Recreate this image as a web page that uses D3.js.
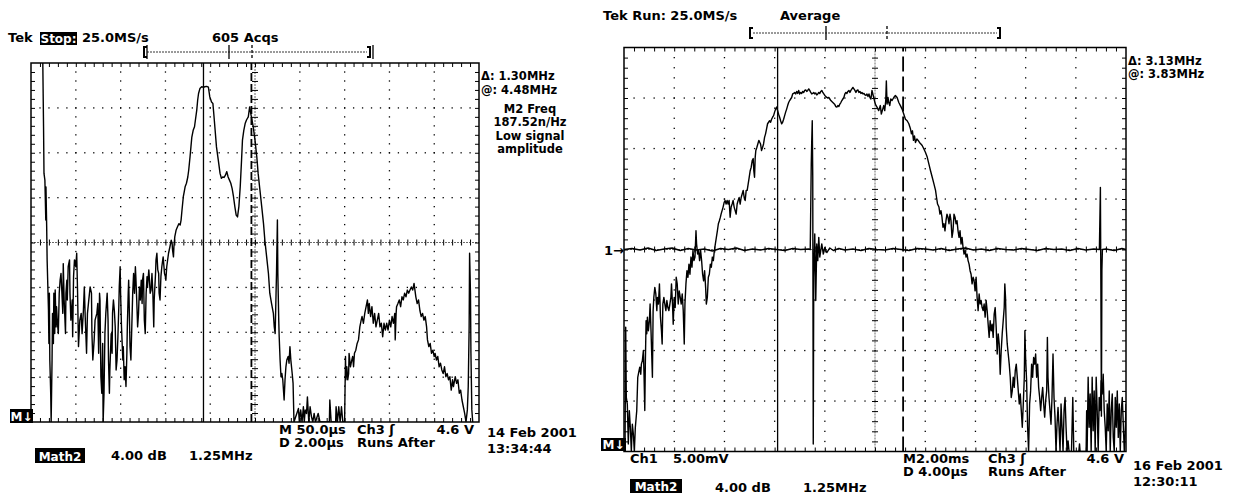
<!DOCTYPE html>
<html>
<head>
<meta charset="UTF-8">
<title>scope captures</title>
<script src="https://cdn.jsdelivr.net/npm/d3@7"></script>
<style>
  body { margin: 0; background: #fff; }
  svg { display: block; }
  text { font-family: "DejaVu Sans", sans-serif; font-weight: bold; font-size: 13px; fill: #000; }
  text.small { font-size: 11.5px; }
  .inv text { fill: #fff; }
  .trace { fill: none; stroke: #000; stroke-width: 1.4px; stroke-linejoin: round; }
  .tick line { stroke: #000; }
</style>
</head>
<body>
<svg width="1233" height="497"></svg>
<script>
// x = record point (500 points over 10 div), y = level in divisions (0 bottom, 8 top)

// scope A (14 Feb 2001) math trace
var mathA = [
  [13, 8.3], [14, 6.58], [14.5, 5.54], [15.5, 5.39], [16.5, 4.50], [16.7, 5.24], [17.5, 4.35], [18, 3.61],
  [19.5, 2.49], [20, 1.75], [20.5, 2.87], [21, 1.38], [22, 0.64], [22.5, 0], [23.5, 1.38], [24, 2.42],
  [25, 1.75], [25.5, 2.87], [26.5, 1.97], [27, 2.94], [28, 2.12], [28.5, 2.57], [29.5, 2.20], [30.5, 1.97],
  [31.5, 2.87], [32.5, 3.16], [33.5, 3.31], [34.5, 2.87], [35.5, 2.42], [36, 3.53], [37, 2.72], [38.5, 1.97],
  [39, 2.87], [40, 3.16], [40.5, 2.72], [41.5, 3.46], [43, 3.61], [43.5, 2.87], [44.5, 2.27], [46, 2.72],
  [46.5, 1.90], [47.5, 3.24], [48.5, 3.61], [50, 3.46], [51, 3.76], [52, 2.87], [53, 1.68], [54.5, 2.27],
  [56, 2.42], [57, 1.97], [58.5, 2.49], [59.5, 3.01], [60.5, 2.35], [62, 1.53], [63, 2.42], [64.5, 2.72],
  [66, 3.01], [67.5, 2.87], [68, 1.97], [69, 1.38], [70.5, 1.83], [71.5, 2.27], [73.5, 2.42], [74.5, 2.64],
  [75.5, 1.53], [76.5, 2.87], [77, 2.72], [78, 1.01], [79, 0.64], [80, 1.75], [80.5, 0], [81.5, 0.64],
  [82.5, 1.97], [83.5, 2.42], [84.5, 2.72], [85, 2.87], [86, 2.27], [86.5, 1.38], [87.5, 0.64], [88, 1.16],
  [89.5, 1.97], [90.5, 1.53], [91, 2.42], [92, 2.72], [93, 2.49], [94, 2.12], [95, 1.16], [96, 1.38],
  [97, 1.90], [98, 2.57], [98.5, 3.01], [99.5, 3.46], [100, 2.87], [101, 2.12], [102.5, 1.38], [103, 1.68],
  [104, 0.94], [105, 1.23], [106, 0.79], [107, 1.53], [107.5, 2.12], [108.5, 2.87], [109, 3.16], [109.5, 2.72],
  [110.5, 1.68], [111.5, 1.38], [112.5, 2.12], [113.5, 2.87], [114.5, 3.31], [115.5, 2.87], [116.5, 3.46], [117, 3.24],
  [118, 2.72], [119, 2.12], [120, 2.42], [121, 3.01], [122, 2.72], [123, 3.16], [124, 2.64], [124.5, 3.16],
  [125.5, 3.31], [126.5, 2.27], [127.5, 1.97], [128.5, 2.87], [129.5, 3.24], [130, 3.01], [131.5, 3.39], [132, 3.24],
  [133, 2.87], [134, 2.94], [135, 3.31], [136, 2.87], [137, 2.12], [137.5, 2.72], [139, 3.31], [139.5, 3.61],
  [140.5, 3.76], [141.5, 3.39], [142.5, 3.31], [143, 2.87], [144, 2.72], [145, 3.24], [146, 3.46], [147, 3.61],
  [147.5, 3.68], [149, 3.31], [150, 3.24], [150.5, 3.16], [151.5, 3.46], [152.5, 3.61], [153.5, 3.76], [155, 3.90],
  [156.5, 4.05], [157.5, 3.98], [158, 3.83], [159, 3.68], [159.5, 3.90], [160.5, 4.13], [162, 4.28], [163.5, 4.35],
  [165, 4.42], [166.5, 4.39], [167.5, 4.50], [168.5, 4.72], [170, 5.02], [171, 5.13], [172, 5.24], [173.5, 5.32],
  [175, 5.46], [176, 5.61], [177.5, 5.91], [178.5, 6.13], [179.5, 6.35], [181, 6.50], [182.5, 6.58], [183.5, 6.73],
  [185, 6.95], [186, 7.17], [187, 7.32], [188.5, 7.43], [190.5, 7.47], [192.5, 7.46], [194, 7.47], [196, 7.48],
  [198, 7.46], [199.5, 7.25], [201.5, 7.13], [203, 7.10], [204, 6.87], [205.5, 6.50], [207, 6.13], [209, 5.84],
  [211, 5.54], [212.5, 5.43], [214, 5.46], [215.5, 5.45], [217, 5.50], [218.5, 5.58], [220, 5.46], [221.5, 5.39],
  [223, 5.32], [224.5, 5.20], [226, 5.02], [227.5, 4.80], [229, 4.61], [230.5, 4.57], [232, 4.80], [233.5, 5.24],
  [235, 5.84], [236, 6.28], [237.5, 6.50], [239, 6.65], [240.5, 6.73], [242.5, 6.80], [244, 7.02], [245.5, 6.85],
  [248, 6.58], [250, 6.28], [252, 5.91], [253.5, 5.54], [255.5, 5.17], [257.5, 4.80], [259.5, 4.42], [261, 4.05],
  [263, 3.68], [265, 3.31], [266.5, 2.87], [268.5, 2.64], [270.5, 2.42], [271.5, 2.12], [272.5, 1.97], [273.5, 2.87],
  [274, 3.31], [275, 4.50], [275.5, 3.31], [276.5, 2.27], [277, 1.90], [278, 1.38], [279, 1.01], [280, 1.08],
  [281, 0.94], [282.5, 0.49], [283.5, 0.94], [284.5, 1.23], [285.5, 1.38], [287, 1.46], [288, 1.31], [289, 1.68],
  [290, 1.38], [291.5, 1.08], [292.5, 0.86], [293.5, 0], [298.5, 0.30], [299.5, 0], [301, 0.27], [302.5, 0],
  [304, 0.34], [305, 0], [306, 0.27], [307.5, 0.19], [308.5, 0.56], [310, 0], [311.5, 0.34], [313, 0.12],
  [314.5, 0], [316, 0.19], [317.5, 0], [320.5, 0.19], [322.5, 0], [333, 0], [333.5, 0.49], [335, 0],
  [340, 0], [340.5, 0.34], [342, 0], [343.5, 0.34], [345, 0], [346.5, 0.34], [348, 0], [350, 0],
  [351, 1.46], [351.5, 0.94], [352.5, 1.23], [353.5, 0.94], [354.5, 1.08], [355, 1.53], [356.5, 1.23], [358, 1.38],
  [359, 1.46], [360, 1.23], [361, 1.53], [362.5, 1.60], [364, 1.75], [365.5, 1.83], [367, 2.12], [368.5, 2.27],
  [369.5, 2.35], [371, 2.20], [372.5, 2.42], [374, 2.57], [375.5, 2.72], [376.5, 2.42], [377.5, 2.64], [379, 2.35],
  [380.5, 2.57], [382, 2.20], [383.5, 2.42], [385, 2.12], [386.5, 2.27], [388, 2.42], [389.5, 2.12], [391, 2.20],
  [392.5, 1.90], [394, 2.20], [395.5, 2.05], [397, 2.20], [398.5, 2.05], [400, 2.27], [401.5, 2.12], [403, 2.35],
  [404.5, 2.20], [406, 2.42], [406.5, 1.83], [407.5, 2.42], [408, 2.57], [409.5, 2.64], [411, 2.72], [412.5, 2.57],
  [414, 2.79], [415.5, 2.72], [417, 2.87], [418.5, 2.79], [420, 2.94], [421.5, 2.87], [423, 2.94], [424.5, 3.01],
  [426, 2.94], [427.5, 3.09], [428.5, 2.94], [429.5, 2.79], [431, 2.64], [432.5, 2.72], [434, 2.49], [435.5, 2.35],
  [437, 2.42], [438.5, 2.27], [440, 2.35], [441.5, 2.12], [442.5, 1.83], [444, 1.68], [445.5, 1.75], [447, 1.53],
  [448.5, 1.60], [450, 1.46], [451, 1.53], [452.5, 1.38], [454, 1.46], [455.5, 1.23], [457, 1.31], [458.5, 1.16],
  [460, 1.08], [461.5, 1.23], [463, 1.01], [464.5, 1.08], [466, 0.94], [467.5, 1.01], [469, 0.71], [470.5, 0.94],
  [471.5, 0.79], [473.5, 1.01], [475, 0.86], [476.5, 0.94], [478, 0.64], [479.5, 0.71], [481, 0.49], [482.5, 0.34],
  [484, 0.19], [485.5, 0], [487, 0.27], [488, 0.79], [489, 2.12], [489.5, 3.76], [490.5, 2.87], [491, 1.53],
  [492, 0.27], [493, 0]
];

// scope B (16 Feb 2001) math trace
var mathB = [
  [1, 0], [1.7, 2.46], [2.3, 1.07], [3.3, 0.94], [4.3, 0.15], [5.3, 0.81], [6.3, 0.48], [7.3, 0],
  [8.3, 0.54], [9.3, 0.35], [10.3, 0], [11.3, 0.48], [12.7, 0.81], [13.7, 1.47], [14.7, 1.57], [15.7, 1.67],
  [16.7, 1.53], [17.3, 1.73], [18.3, 1.80], [19.3, 2.00], [20, 1.47], [20.7, 0.81], [21.3, 1.80], [22, 2.59],
  [22.7, 2.33], [23.3, 2.66], [24.3, 2.39], [25.3, 2.59], [26, 2.92], [27, 2.33], [27.7, 1.86], [28.3, 1.47],
  [29, 2.79], [29.7, 3.05], [30.7, 3.25], [31.7, 3.12], [32.7, 2.79], [33.3, 3.05], [34.3, 2.92], [35.3, 3.32],
  [36.3, 2.66], [37.3, 2.39], [38, 2.13], [38.7, 2.92], [39.7, 3.05], [40.7, 2.92], [41.7, 2.79], [42.7, 2.99],
  [43.7, 2.85], [44.7, 2.79], [45.7, 2.92], [46.7, 3.05], [47.3, 3.32], [48.3, 2.92], [49, 2.52], [50, 3.05],
  [51, 2.85], [52, 3.45], [53, 3.32], [54, 2.92], [55, 3.18], [56, 3.05], [57, 2.92], [58, 3.12],
  [59, 2.79], [60, 2.13], [60.7, 2.92], [61.7, 3.32], [62.7, 3.58], [63.7, 3.45], [64.7, 3.71], [65.7, 3.51],
  [66.7, 3.85], [67.7, 3.65], [68.7, 3.98], [69.7, 3.78], [70.7, 3.85], [71.7, 4.37], [72.3, 4.11], [73.3, 3.91],
  [74.3, 3.98], [75.3, 3.78], [76.3, 3.98], [77.3, 3.78], [78.3, 3.51], [79.3, 3.38], [80.3, 3.58], [81.3, 3.25],
  [82, 2.92], [83, 3.05], [84, 3.45], [85, 3.51], [86, 3.71], [87, 3.65], [88, 3.85], [89, 3.78],
  [90, 3.98], [91, 4.11], [92, 4.24], [93, 4.37], [94, 4.51], [95, 4.57], [96, 4.64], [96.7, 4.70],
  [97.7, 4.77], [98.7, 4.84], [99.7, 4.93], [100.7, 4.97], [101.7, 4.90], [102.7, 4.97], [103.7, 4.90], [104.7, 4.97],
  [105.7, 4.64], [106.7, 4.84], [107.7, 4.90], [108.7, 4.97], [109.7, 4.84], [110.7, 4.77], [111.7, 4.70], [112.7, 4.90],
  [113.7, 4.97], [114.7, 5.03], [115.7, 4.90], [116.7, 5.03], [117.7, 5.10], [118.7, 5.17], [119.7, 5.03], [120.7, 4.97],
  [121.7, 5.17], [122.7, 5.17], [123.7, 5.30], [124.7, 5.43], [125.7, 5.56], [126.7, 5.63], [127.7, 5.76], [128.7, 5.80],
  [129.3, 5.56], [130, 5.43], [130.7, 5.83], [131.3, 5.96], [132.3, 6.02], [133.3, 6.09], [134.3, 6.16], [135.3, 6.12],
  [136, 6.09], [137, 5.96], [138, 6.02], [139, 6.09], [140, 6.22], [141, 6.29], [142, 6.39], [143, 6.49],
  [144, 6.52], [145, 6.55], [146, 6.52], [147, 6.58], [148, 6.62], [149, 6.65], [150, 6.72], [151, 6.78],
  [152, 6.82], [153, 6.75], [154, 6.68], [155, 6.62], [156, 6.55], [157, 6.49], [158, 6.52], [159, 6.58],
  [160, 6.65], [161, 6.72], [162, 6.78], [163, 6.85], [164, 6.91], [165, 6.95], [166, 6.98], [167, 7.01],
  [168, 7.08], [169, 7.09], [170, 7.11], [171, 7.08], [172, 7.13], [173, 7.09], [174, 7.15], [175, 7.08],
  [176, 7.11], [177, 7.09], [178, 7.13], [179, 7.11], [180, 7.15], [181, 7.16], [182, 7.13], [183, 7.15],
  [184, 7.18], [185, 7.15], [186, 7.11], [187, 7.08], [188, 7.09], [189, 7.11], [190, 7.08], [191, 7.10],
  [192, 7.06], [193, 7.08], [194, 7.11], [195, 7.09], [196, 7.13], [197, 7.15], [198, 7.11], [199, 7.08],
  [200, 7.05], [201, 7.03], [202, 7.01], [203, 7.00], [204, 7.01], [205, 6.98], [206, 6.95], [207, 6.93],
  [208, 6.91], [209, 6.89], [210, 6.87], [211, 6.83], [212, 6.82], [213, 6.85], [214, 6.83], [215, 6.88],
  [216, 6.91], [217, 6.95], [218, 6.98], [219, 7.01], [220, 7.08], [221, 7.11], [222, 7.09], [223, 7.13],
  [224, 7.15], [225, 7.11], [226, 7.15], [227, 7.18], [228, 7.21], [229, 7.18], [230, 7.15], [231, 7.11],
  [232, 7.15], [233, 7.16], [234, 7.11], [235, 7.13], [236, 7.09], [237, 7.11], [238, 7.08], [239, 7.09],
  [240, 7.06], [241, 7.05], [242, 7.08], [243, 7.03], [244, 7.08], [245, 7.01], [246, 6.98],
  [247, 7.15], [248.7, 7.01], [250.3, 6.88], [252, 6.82], [253.7, 6.75], [255.3, 6.85], [256.3, 6.68], [257.7, 6.78],
  [258.7, 6.85], [259.7, 6.75], [260.7, 6.95], [261.3, 7.34], [262, 6.88], [263, 7.01], [263.7, 6.91], [264.7, 6.85],
  [265.7, 6.98], [267, 6.95], [268.7, 7.01], [270.3, 7.05], [272, 7.01], [273.7, 6.91], [275.3, 6.85], [277, 6.78],
  [278.7, 6.68], [280.3, 6.58], [282, 6.55], [283.7, 6.49], [285.3, 6.39], [286.3, 6.29], [287.3, 6.35], [288.3, 6.16],
  [289.3, 6.25], [290.3, 6.12], [291.7, 6.19], [293, 6.16], [294.3, 6.12], [295.7, 6.09], [297, 6.06], [298.7, 5.99],
  [300.3, 5.92], [302, 5.83], [303.7, 5.69], [305.3, 5.56], [307, 5.43], [308.7, 5.30], [310.3, 5.17], [311.3, 5.03],
  [312.3, 4.90], [313.7, 4.84], [314.7, 4.70], [315.7, 4.77], [316.7, 4.64], [317.7, 4.44], [318.7, 4.51], [319.7, 4.37],
  [320.7, 4.57], [321.7, 4.70], [322.7, 4.64], [323.7, 4.51], [324.7, 4.70], [325.7, 4.57], [326.7, 4.24], [327.7, 4.37],
  [328.7, 4.70], [329.7, 4.64], [330.7, 4.51], [331.7, 4.57], [332.7, 4.37], [333.7, 4.24], [334.7, 4.37], [335.7, 4.11],
  [336.7, 4.24], [337.7, 4.04], [338.7, 3.91], [339.7, 3.98], [340.7, 3.85], [341.7, 3.91], [342.7, 3.78], [343.7, 3.71],
  [344.7, 3.58], [345.7, 3.51], [346.7, 3.32], [347.7, 3.45], [348.7, 3.38], [349.7, 3.18], [350.7, 3.45], [351.7, 3.05],
  [352.7, 2.79], [353.7, 3.12], [354.7, 2.92], [355.7, 2.99], [356.7, 2.85], [357.7, 2.79], [358.7, 2.92], [359.7, 2.66],
  [360.7, 2.99], [361.7, 2.79], [362.7, 2.52], [363.7, 2.26], [364.7, 2.59], [365.7, 2.39], [366.7, 2.52], [367.7, 2.26],
  [368.7, 2.72], [369.7, 2.85], [370.7, 2.46], [371.7, 1.93], [372.7, 2.33], [373.7, 2.13], [374.7, 1.53], [375.7, 2.00],
  [376.7, 2.33], [377.7, 2.59], [378.7, 2.85], [379.3, 3.32], [380, 3.05], [380.7, 2.46], [381.7, 2.13], [382.7, 1.93],
  [383.7, 1.73], [384.7, 1.47], [385.7, 1.07], [386.7, 1.20], [387.7, 1.47], [388.7, 1.27], [389.7, 1.60], [390.7, 1.73],
  [391.7, 1.47], [392.7, 1.20], [393.7, 0.94], [394.7, 1.14], [395.7, 0.81], [396.7, 0.48], [397.7, 0.94], [398.7, 1.47],
  [399.3, 2.39], [400, 1.86], [401, 1.40], [402, 0.48], [403, 0], [404, 0.94], [405, 1.20], [406, 1.73],
  [407, 1.47], [408, 1.86], [409, 1.73], [410, 1.93], [411, 1.47], [412, 1.73], [413, 1.27], [414, 1.07],
  [415, 0.81], [416, 1.07], [417, 1.27], [418, 0.94], [419, 0.68], [420, 1.01], [421, 1.20], [421.7, 2.26],
  [422.3, 1.47], [423.3, 1.07], [424.3, 0.81], [425.3, 0.54], [426.3, 1.07], [427.3, 1.93], [428.3, 1.07], [429.3, 0.68],
  [430.3, 0], [431.3, 0.54], [432.3, 0.87], [433.3, 0.48], [434.3, 0], [435.3, 0.94], [436.3, 0.48], [437.3, 0],
  [438.3, 0.81], [439.3, 1.07], [440.3, 0.48], [441.3, 0], [442.3, 0.21], [443.3, 0], [445.7, 0], [447, 1.07],
  [448, 0], [453, 0], [453.7, 0.15], [454.3, 0], [460.3, 0], [460.8, 0.81], [461.3, 0], [462.3, 1.47],
  [463.3, 0.48], [464.3, 1.14], [465.3, 0], [466.3, 1.47], [467.3, 0.41], [468.3, 1.20], [469.3, 0], [470.3, 1.47],
  [471.3, 0.81], [472.3, 0], [473.3, 1.07], [474.3, 0.81], [475.3, 1.40], [476.3, 1.14], [477.3, 1.53], [478.3, 0.81],
  [479.3, 0.48], [480.3, 0], [481.3, 0.94], [482.3, 0.41], [483.3, 1.20], [484.3, 0], [485.3, 0.81], [486.3, 1.14],
  [487.3, 0.28], [488.3, 0], [489.3, 1.07], [490.3, 0.48], [491.3, 1.20], [492.3, 0.28], [493.3, 0.94], [494.3, 0],
  [495.3, 0.81], [496.3, 1.07], [497.3, 0.54], [498.3, 0], [499.3, 0.41], [500, 0.94]
];

// scope B channel 1 (flat at centre, two spikes)
var ch1B = [
  [0, 4.00], [8, 4.02], [16, 3.99], [24, 4.03], [32, 3.98], [40, 4.01], [48, 4.03], [56, 3.98],
  [64, 4.02], [72, 3.99], [80, 4.01], [88, 3.97], [96, 4.02], [104, 4.00], [112, 4.03], [120, 3.98],
  [128, 4.01], [136, 3.99], [144, 4.02], [152, 4.00], [160, 3.98], [168, 4.02], [176, 4.00], [184, 4.01],
  [185.5, 4.00], [186.5, 5.69], [187, 6.16], [187.5, 6.55], [188, 5.43], [188.5, 0.15], [189, 3.45], [190, 4.31],
  [191, 2.99], [192, 4.11], [193, 3.78], [194, 4.24], [195, 3.85], [197, 4.11], [198.5, 3.91], [200, 4.04],
  [202, 3.94], [205, 4.03], [208.5, 3.98], [214, 4.02], [220, 3.99], [228, 4.01], [236, 3.98], [244, 4.02],
  [252, 4.00], [260, 3.99], [268, 4.02], [276, 4.00], [284, 3.98], [292, 4.02], [300, 4.01], [308, 3.99],
  [316, 4.02], [324, 3.98], [332, 4.01], [340, 4.03], [348, 3.99], [356, 4.01], [364, 3.98], [372, 4.02],
  [380, 4.00], [388, 3.99], [396, 4.02], [404, 4.00], [412, 3.98], [420, 4.02], [428, 4.00], [436, 4.01],
  [444, 3.98], [452, 4.02], [460, 3.99], [468, 4.01], [473.5, 4.00], [474.5, 5.23], [475, 3.20], [475.5, 0.70],
  [476, 3.60], [476.5, 4.00], [480, 4.01], [488, 3.98], [496, 4.02], [500, 4.00]
];

var cursorsA = [192.5, 246];   // solid, dashed
var cursorsB = [153, 278];

var svg = d3.select("svg");

function drawScope(box, traces, cursors, dashPattern) {
    var g = svg.append("g");
    var x = d3.scaleLinear().domain([0, 500]).range([box.left, box.right]);
    var y = d3.scaleLinear().domain([0, 8]).range([box.bottom, box.top]);
    var minorX = d3.range(10, 500, 10);
    var minorY = d3.range(0.2, 8, 0.2);

    // dotted graticule
    var vLines = [50, 100, 150, 200, 300, 350, 400, 450];
    var hLines = [1, 2, 3, 5, 6, 7];
    g.append("g").selectAll("rect")
        .data(d3.cross(vLines, minorY))
        .join("rect")
        .attr("x", d => x(d[0]) - 0.6).attr("y", d => y(d[1]) - 0.6)
        .attr("width", 1.3).attr("height", 1.3).attr("fill", "#000");
    g.append("g").selectAll("rect")
        .data(d3.cross(minorX, hLines))
        .join("rect")
        .attr("x", d => x(d[0]) - 0.6).attr("y", d => y(d[1]) - 0.6)
        .attr("width", 1.3).attr("height", 1.3).attr("fill", "#000");

    // centre lines
    g.append("line").attr("x1", x(0)).attr("x2", x(500)).attr("y1", y(4)).attr("y2", y(4))
        .attr("stroke", "#444").attr("stroke-width", 0.8).attr("stroke-dasharray", "2,1");
    g.append("line").attr("x1", x(250)).attr("x2", x(250)).attr("y1", y(0)).attr("y2", y(8))
        .attr("stroke", "#444").attr("stroke-width", 0.8).attr("stroke-dasharray", "2,1");

    function ticks(axis, tx, ty) {
        var a = g.append("g").attr("transform", "translate(" + tx + "," + ty + ")").call(axis);
        a.select(".domain").remove();
    }
    ticks(d3.axisBottom(x).tickValues(minorX).tickSize(4).tickFormat(""), 0, y(8));
    ticks(d3.axisTop(x).tickValues(minorX).tickSize(4).tickFormat(""), 0, y(0));
    ticks(d3.axisRight(y).tickValues(minorY).tickSize(4).tickFormat(""), x(0), 0);
    ticks(d3.axisLeft(y).tickValues(minorY).tickSize(4).tickFormat(""), x(500), 0);
    ticks(d3.axisTop(x).tickValues(minorX).tickSize(3).tickFormat(""), 0, y(4));
    ticks(d3.axisBottom(x).tickValues(minorX).tickSize(3).tickFormat(""), 0, y(4));
    ticks(d3.axisLeft(y).tickValues(minorY).tickSize(3).tickFormat(""), x(250), 0);
    ticks(d3.axisRight(y).tickValues(minorY).tickSize(3).tickFormat(""), x(250), 0);

    // cursors
    g.append("line").attr("x1", x(cursors[0])).attr("x2", x(cursors[0]))
        .attr("y1", y(0)).attr("y2", y(8)).attr("stroke", "#000").attr("stroke-width", 1.3);
    g.append("line").attr("x1", x(cursors[1])).attr("x2", x(cursors[1]))
        .attr("y1", y(0)).attr("y2", y(8)).attr("stroke", "#000").attr("stroke-width", 1.8)
        .attr("stroke-dasharray", dashPattern);

    // traces
    var clipId = "clip" + box.left;
    svg.append("clipPath").attr("id", clipId).append("rect")
        .attr("x", x(0)).attr("y", y(8)).attr("width", x(500) - x(0)).attr("height", y(0) - y(8));
    var line = d3.line().x(d => x(d[0])).y(d => y(d[1]));
    traces.forEach(function (t) {
        g.append("path").datum(t).attr("class", "trace").attr("clip-path", "url(#" + clipId + ")").attr("d", line);
    });

    // border
    g.append("rect").attr("x", x(0)).attr("y", y(8)).attr("width", x(500) - x(0)).attr("height", y(0) - y(8))
        .attr("fill", "none").attr("stroke", "#000").attr("stroke-width", 1.5);
    return g;
}

function label(t, px, py, anchor, cls) {
    svg.append("text").attr("x", px).attr("y", py).attr("text-anchor", anchor || "start")
        .attr("class", cls || null).text(t);
}
function invLabel(t, px, py, w, h, size) {
    var g = svg.append("g").attr("class", "inv");
    g.append("rect").attr("x", px).attr("y", py).attr("width", w).attr("height", h).attr("fill", "#000");
    g.append("text").attr("x", px + w / 2).attr("y", py + h - 2.5).attr("text-anchor", "middle")
        .style("font-size", size + "px").text(t);
}
function bracket(x0, x1, yy, marks) {
    var g = svg.append("g").attr("stroke", "#000").attr("fill", "none");
    g.append("path").attr("d", "M" + (x0 + 3) + "," + (yy - 5) + "H" + x0 + "V" + (yy + 5) + "H" + (x0 + 3)).attr("stroke-width", 2);
    g.append("path").attr("d", "M" + (x1 - 3) + "," + (yy - 5) + "H" + x1 + "V" + (yy + 5) + "H" + (x1 - 3)).attr("stroke-width", 2);
    g.append("line").attr("x1", x0 + 3).attr("x2", x1 - 3).attr("y1", yy).attr("y2", yy)
        .attr("stroke-width", 0.8).attr("stroke-dasharray", "2,1");
    marks.forEach(function (m) {
        g.append("line").attr("x1", m[0]).attr("x2", m[0]).attr("y1", yy - 7).attr("y2", yy + 7)
            .attr("stroke-width", 1.3).attr("stroke-dasharray", m[1] ? "3,2" : null);
    });
}

// ---- scope A ----
drawScope({left: 31, right: 479, top: 63, bottom: 422}, [mathA], cursorsA, "8,3");
label("Tek", 8, 42);
invLabel("Stop:", 40, 32, 37, 13, 12);
label("25.0MS/s", 82, 42);
label("605 Acqs", 212, 42);
bracket(144, 370, 52, [[147, false], [229, false], [252, true], [373, false]]);
label("\u0394: 1.30MHz", 481, 80, "start", "small");
label("@: 4.48MHz", 481, 93.5, "start", "small");
label("M2 Freq", 530, 112.5, "middle", "small");
label("187.52n/Hz", 530, 126, "middle", "small");
label("Low signal", 530, 139.5, "middle", "small");
label("amplitude", 530, 153, "middle", "small");
invLabel("M\u2193", 10, 409, 23, 14, 12);
label("M 50.0\u00b5s", 279, 434);
label("Ch3 \u0283", 357, 434);
label("4.6 V", 474, 434, "end");
label("D 2.00\u00b5s", 279, 447);
label("Runs After", 357, 447);
label("14 Feb 2001", 487, 437);
label("13:34:44", 487, 453);
invLabel("Math2", 35, 448, 50, 15, 12);
label("4.00 dB", 111, 460);
label("1.25MHz", 189, 460);

// ---- scope B ----
drawScope({left: 624, right: 1126, top: 47.5, bottom: 451.5}, [ch1B, mathB], cursorsB, "15,5");
label("Tek Run: 25.0MS/s", 603, 20);
label("Average", 780, 20);
bracket(750, 1000, 33, [[826, false], [887, true]]);
label("\u0394: 3.13MHz", 1128, 64.5, "start", "small");
label("@: 3.83MHz", 1128, 78, "start", "small");
label("1\u2192", 604, 254.5);
invLabel("M\u2193", 601, 438, 25, 13, 12);
label("Ch1", 630, 463);
label("5.00mV", 673, 463);
label("M2.00ms", 903, 463);
label("Ch3 \u0283", 988, 463);
label("4.6 V", 1124, 463, "end");
label("D 4.00\u00b5s", 903, 476);
label("Runs After", 988, 476);
label("16 Feb 2001", 1133, 470);
label("12:30:11", 1133, 486);
invLabel("Math2", 630, 479, 52, 14, 12);
label("4.00 dB", 715, 492);
label("1.25MHz", 803, 492);
</script>
</body>
</html>
